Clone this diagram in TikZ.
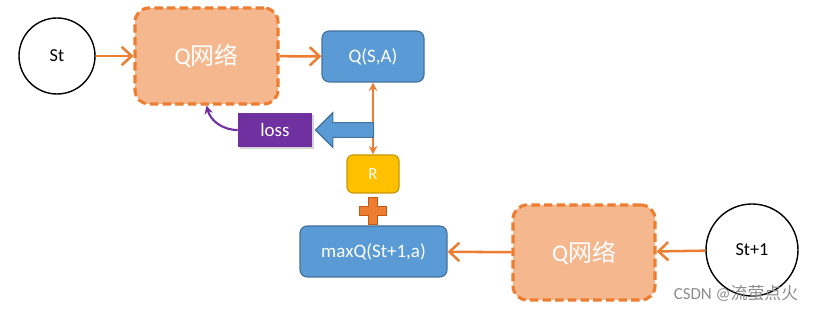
\documentclass[tikz,border=0pt]{standalone}
\usepackage{fontspec}
\setmainfont{Carlito}
\newfontfamily\cjk{Noto Sans CJK SC}
\usepackage{tikz}
\usetikzlibrary{positioning, arrows.meta, shapes.arrows, shadows, calc}
\definecolor{DQOrange}{RGB}{237,125,49}
\definecolor{DQOrangeDk}{RGB}{196,89,17}
\definecolor{DQPeach}{RGB}{245,183,142}
\definecolor{DQBlue}{RGB}{91,155,213}
\definecolor{DQBlueDk}{RGB}{65,113,156}
\definecolor{DQGold}{RGB}{255,192,0}
\definecolor{DQGoldDk}{RGB}{200,150,0}
\definecolor{DQPurple}{RGB}{112,48,160}

\tikzset{
  state/.style={circle, draw=black, line width=1pt, inner sep=0pt,
                font=\fontsize{13}{15}\selectfont},
  qnet/.style={draw=DQOrange, fill=DQPeach, line width=2.2pt,
               dash pattern=on 6pt off 3pt, rounded corners=0.35cm,
               minimum height=2.4cm, text=white,
               font=\fontsize{17}{20}\selectfont},
  bluebox/.style={draw=DQBlueDk, fill=DQBlue, line width=0.8pt,
                  rounded corners=0.18cm, minimum height=1.275cm,
                  text=white, font=\fontsize{13.5}{16}\selectfont},
  flow/.style={DQOrange, line width=1.8pt,
               -{Straight Barb[length=7pt, width=13pt, line width=1.8pt]}},
}

\begin{document}
\begin{tikzpicture}
        \useasboundingbox (0,0) rectangle (20.675,7.775);
        % ---- Top row: St -> Q network -> Q(S,A) ----
        \node[state, minimum size=1.9cm] (st) at (1.425, 6.375) {St};
        \node[qnet, minimum width=3.575cm] (qnet) at (5.1625, 6.375) {Q{\cjk 网络}};
        \node[bluebox, minimum width=2.55cm] (qsa) at (9.325, 6.3625) {Q(S,A)};
        \draw[flow] (st) -- (qnet);
        \draw[flow] (qnet) -- (qsa);

        % ---- Reward ----
        \node[draw=DQGoldDk, fill=DQGold, line width=0.8pt, rounded corners=0.15cm,
              minimum width=1.3cm, minimum height=0.95cm, text=white,
              font=\fontsize{12}{14}\selectfont] (rew) at (9.325, 3.425) {R};
        \draw[DQOrange, line width=1.5pt,
              {Stealth[length=6pt, width=6pt]}-{Stealth[length=6pt, width=6pt]}]
              (qsa) -- (rew);

        % plus sign
        \coordinate (plus) at (9.325, 2.5);
        \draw[fill=DQOrange, draw=DQOrangeDk, line width=0.6pt, shift={(plus)}]
              (-0.11,0.34) -- (0.11,0.34) -- (0.11,0.11) -- (0.34,0.11)
              -- (0.34,-0.11) -- (0.11,-0.11) -- (0.11,-0.34) -- (-0.11,-0.34)
              -- (-0.11,-0.11) -- (-0.34,-0.11) -- (-0.34,0.11) -- (-0.11,0.11) -- cycle;

        % ---- Bottom row: St+1 -> Q network -> maxQ ----
        \node[bluebox, minimum width=3.675cm] (maxq) at (9.3375, 1.4875) {maxQ(St+1,a)};
        \node[qnet, minimum width=3.55cm, minimum height=2.375cm] (qnet2) at (14.6, 1.4625) {Q{\cjk 网络}};
        \node[state, minimum size=2.3cm] (st1) at (18.8, 1.525) {St+1};
        \draw[flow] (st1) -- (qnet2);
        \draw[flow] (qnet2) -- (maxq);

        % ---- Loss back to the network ----
        \node[fill=DQPurple, minimum width=1.85cm, minimum height=0.85cm, text=white,
              font=\fontsize{13.5}{16}\selectfont,
              drop shadow={opacity=0.35, shadow xshift=0.05cm, shadow yshift=-0.06cm}]
              (loss) at (6.875, 4.525) {loss};
        \node[single arrow, draw=DQBlueDk, fill=DQBlue, line width=0.8pt,
              shape border rotate=180, inner sep=0.17cm, single arrow head extend=0.25cm,
              minimum height=1.45cm, anchor=tip] (back) at ($(loss.east)+(0.06,0)$) {};
        \draw[DQPurple, line width=1.5pt, -{Stealth[length=6pt, width=6pt]}]
              (loss.west) to[out=180, in=-75] (qnet.south);

        % watermark
        \node[text=black!45, font=\fontsize{12}{14}\selectfont] (mark) at (18.4, 0.45)
              {CSDN @{\cjk 流萤点火}};
      \end{tikzpicture}
\end{document}
